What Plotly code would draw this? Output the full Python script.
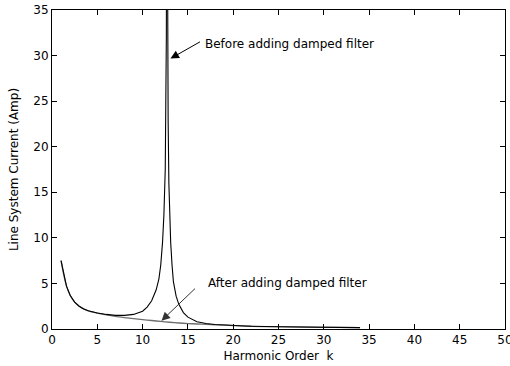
import plotly.graph_objects as go

# Harmonic order k and line system current (Amp)
before_k = [1, 1.3, 1.6, 2, 2.5, 3, 3.5, 4, 5, 6, 7, 8, 9, 10, 10.5, 11, 11.5, 11.8,
            12, 12.2, 12.35, 12.5, 12.57, 12.62, 12.68, 12.74, 12.82, 12.9, 13, 13.1,
            13.25, 13.4, 13.7, 14, 14.5, 15, 16, 17, 18, 20, 22, 25, 28, 31, 34]
before_val = [7.5, 5.9, 4.7, 3.7, 2.95, 2.5, 2.2, 2.0, 1.75, 1.6, 1.5, 1.5, 1.6, 1.95, 2.4,
              3.1, 4.3, 5.5, 7.0, 9.5, 12.5, 17.5, 24.4, 32, 60, 32, 22.8, 16, 12.4, 9.5,
              7.0, 5.2, 3.6, 2.7, 1.8, 1.3, 0.8, 0.6, 0.5, 0.38, 0.3, 0.25, 0.2, 0.17, 0.15]

after_k = [1, 1.3, 1.6, 2, 2.5, 3, 3.5, 4, 5, 6, 7, 8, 9, 10, 11, 12, 13, 14, 15, 16,
           17, 18, 20, 22, 25, 28, 31, 34]
after_val = [7.5, 5.9, 4.7, 3.7, 2.95, 2.5, 2.2, 2.0, 1.75, 1.55, 1.38, 1.25, 1.13, 1.03,
             0.93, 0.83, 0.74, 0.66, 0.6, 0.55, 0.5, 0.46, 0.38, 0.3, 0.25, 0.2, 0.17, 0.15]

x_ticks = [0, 5, 10, 15, 20, 25, 30, 35, 40, 45, 50]
y_ticks = [0, 5, 10, 15, 20, 25, 30, 35]

FONT = "DejaVu Sans"

fig = go.Figure()
fig.add_trace(go.Scatter(x=after_k, y=after_val, mode="lines",
                         line=dict(color="#6e6e6e", width=1.3, shape="spline", smoothing=0.8),
                         name="After", showlegend=False))
fig.add_trace(go.Scatter(x=before_k, y=before_val, mode="lines",
                         line=dict(color="black", width=1.1),
                         name="Before", showlegend=False))

# arrows
fig.add_annotation(x=13.08, y=29.67, ax=16.5, ay=31.6, xref="x", yref="y", axref="x", ayref="y",
                   text="", showarrow=True, arrowhead=2, arrowsize=1.7, arrowwidth=1,
                   arrowcolor="black")
fig.add_annotation(x=12.09, y=0.91, ax=15.95, ay=4.59, xref="x", yref="y", axref="x", ayref="y",
                   text="", showarrow=True, arrowhead=2, arrowsize=1.7, arrowwidth=1,
                   arrowcolor="#333333")
fig.add_annotation(x=16.65, y=31.24, xref="x", yref="y", text="Before adding damped filter",
                   showarrow=False, xanchor="left", yanchor="middle",
                   font=dict(family=FONT, size=12, color="black"))
fig.add_annotation(x=16.98, y=5.06, xref="x", yref="y", text="After adding damped filter",
                   showarrow=False, xanchor="left", yanchor="middle",
                   font=dict(family=FONT, size=12, color="black"))

axis_common = dict(showgrid=False, zeroline=False, showline=True, linecolor="black",
                   linewidth=1, mirror="ticks", ticks="inside", ticklen=5,
                   tickcolor="black", ticklabeloverflow="allow",
                   tickfont=dict(family=FONT, size=12, color="black"))

fig.update_xaxes(range=[0, 50], tickvals=x_ticks, ticktext=[str(v) for v in x_ticks],
                 title=dict(text="Harmonic Order  k", font=dict(family=FONT, size=12, color="black"),
                            standoff=5),
                 **axis_common)
fig.update_yaxes(range=[0, 35], tickvals=y_ticks, ticktext=[str(v) for v in y_ticks],
                 title=dict(text="Line System Current (Amp)", font=dict(family=FONT, size=12, color="black"),
                            standoff=12),
                 **axis_common)

fig.update_layout(width=510, height=366, margin=dict(l=52, r=5, t=10, b=37, autoexpand=False),
                  plot_bgcolor="white", paper_bgcolor="white",
                  font=dict(family=FONT, size=12, color="black"))

fig.write_html("out.html")
